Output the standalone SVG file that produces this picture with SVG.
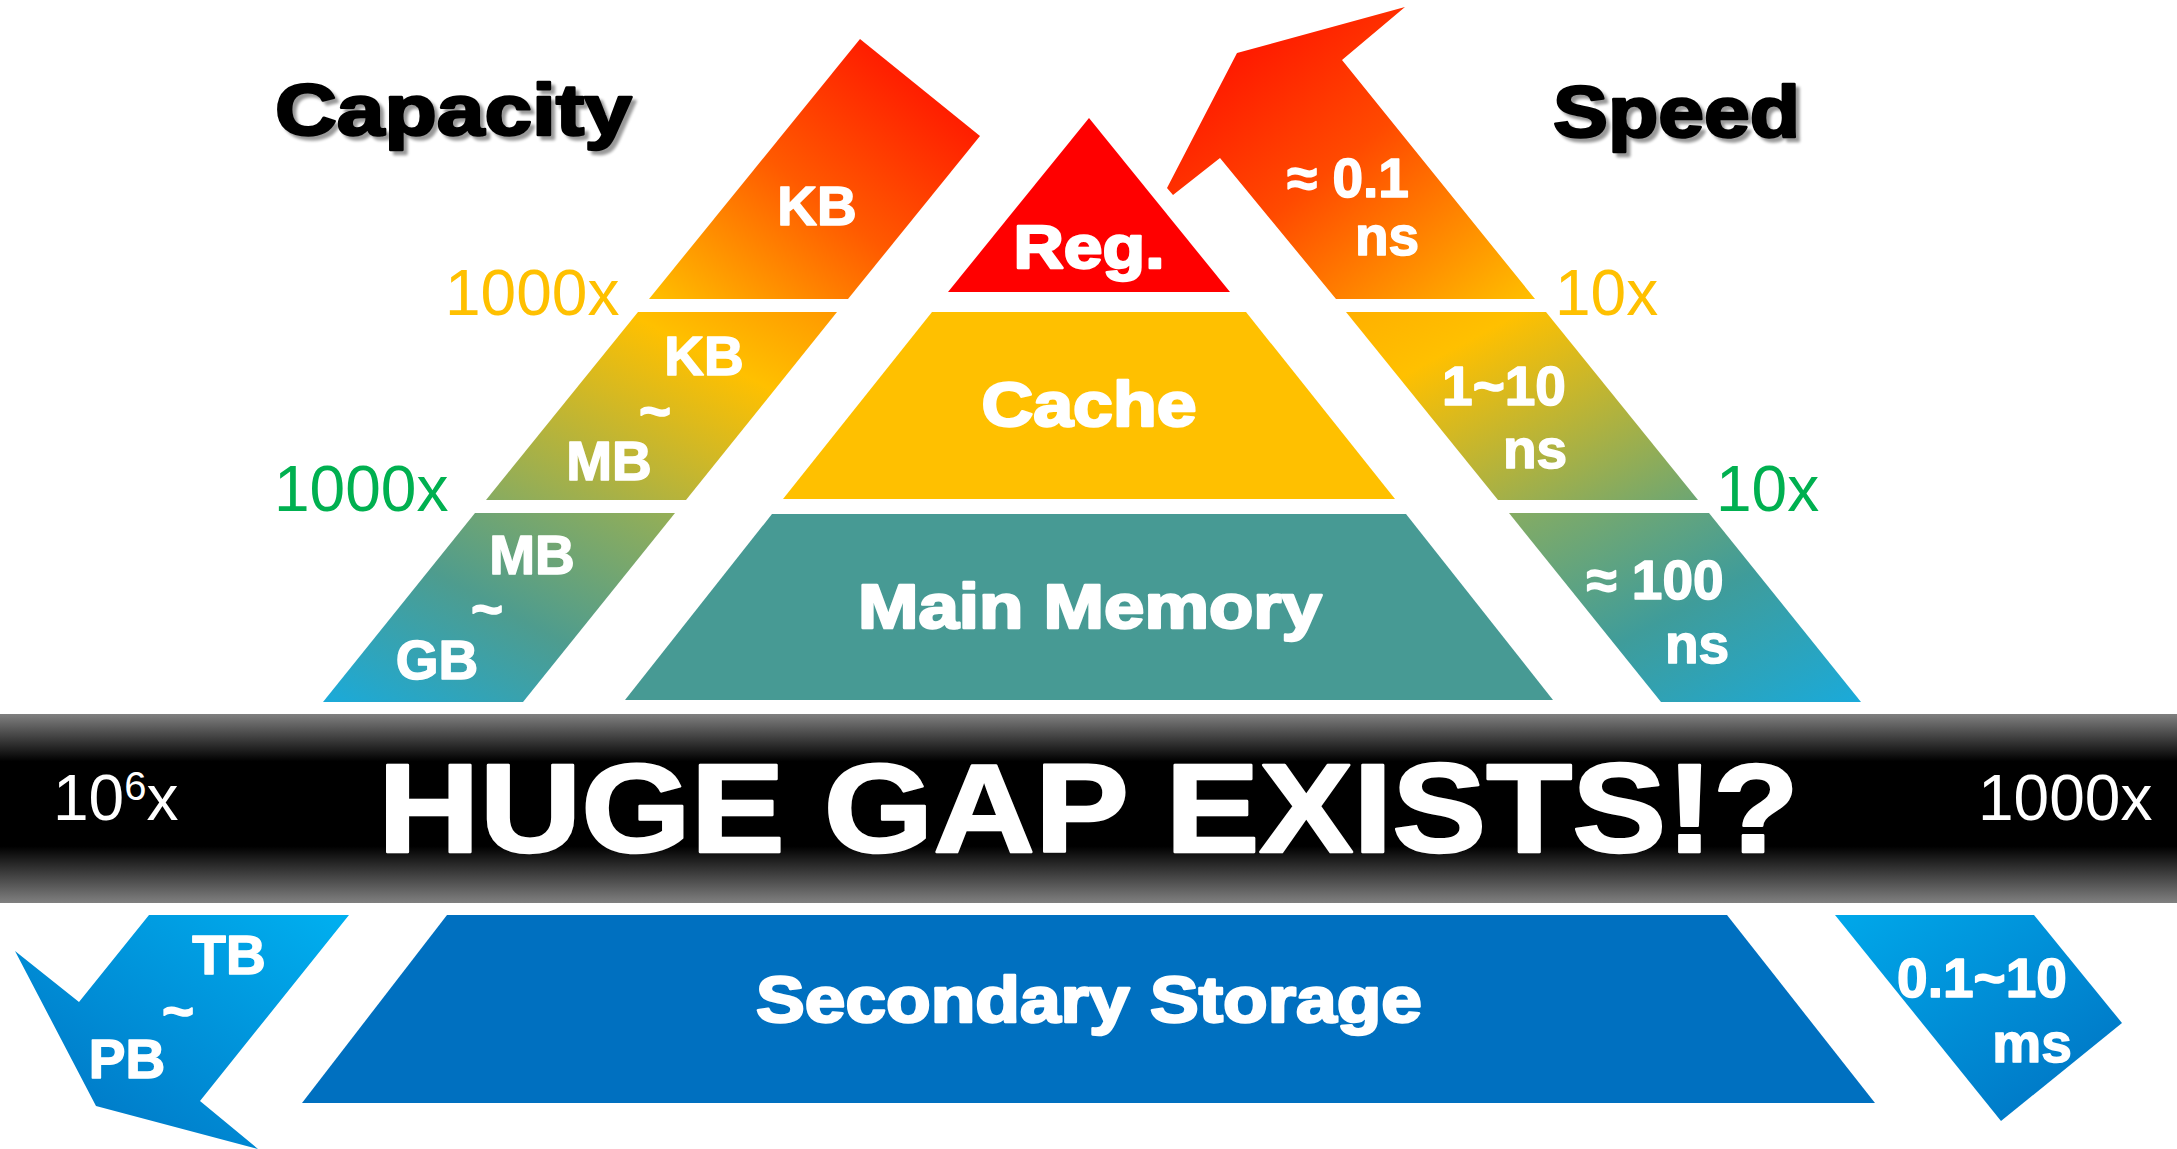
<svg xmlns="http://www.w3.org/2000/svg" width="2177" height="1149" viewBox="0 0 2177 1149">
  <style>
    text { font-family: "Liberation Sans", Arial, sans-serif; }
    .lbl { font-size: 55px; font-weight: bold; fill: #fff; stroke: #fff; stroke-width: 1.5; stroke-linejoin: round; text-anchor: middle; }
    .heavy { font-weight: bold; fill: #fff; stroke: #fff; stroke-width: 2.5; stroke-linejoin: round; paint-order: stroke; }
    .title { font-size: 73px; font-weight: bold; fill: #000; stroke: #000; stroke-width: 2.5; stroke-linejoin: round; }
    .mult { font-size: 64px; font-weight: normal; }
    .yel { fill: #FFC000; }
    .grn { fill: #00B050; }
    .wht { fill: #fff; }
  </style>
  <defs>
    <!-- capacity band, one gradient per segment (top-right to bottom-left) -->
    <linearGradient id="cap1" x1="1" y1="0" x2="0" y2="1">
      <stop offset="0" stop-color="#FF0000"/>
      <stop offset="0.55" stop-color="#FF5A00"/>
      <stop offset="1" stop-color="#FFC000"/>
    </linearGradient>
    <linearGradient id="cap2" x1="1" y1="0" x2="0" y2="1">
      <stop offset="0" stop-color="#FF9800"/>
      <stop offset="0.3" stop-color="#FFC000"/>
      <stop offset="1" stop-color="#86AB62"/>
    </linearGradient>
    <linearGradient id="cap3" x1="1" y1="0" x2="0" y2="1">
      <stop offset="0" stop-color="#96AF55"/>
      <stop offset="0.5" stop-color="#4E9C8E"/>
      <stop offset="1" stop-color="#1AAADA"/>
    </linearGradient>
    <!-- speed band, mirrored (top-left to bottom-right) -->
    <linearGradient id="spd1" x1="0" y1="0" x2="1" y2="1">
      <stop offset="0" stop-color="#FF0000"/>
      <stop offset="0.5" stop-color="#FF4A00"/>
      <stop offset="1" stop-color="#FFC000"/>
    </linearGradient>
    <linearGradient id="spd2" x1="0" y1="0" x2="1" y2="1">
      <stop offset="0" stop-color="#FFB000"/>
      <stop offset="0.25" stop-color="#FFC000"/>
      <stop offset="1" stop-color="#6CA674"/>
    </linearGradient>
    <linearGradient id="spd3" x1="0" y1="0" x2="1" y2="1">
      <stop offset="0" stop-color="#86AC62"/>
      <stop offset="0.5" stop-color="#3F9C9A"/>
      <stop offset="1" stop-color="#1AAADA"/>
    </linearGradient>
    <linearGradient id="blueL" x1="1" y1="0" x2="0" y2="1">
      <stop offset="0" stop-color="#00B0F0"/>
      <stop offset="1" stop-color="#0070C0"/>
    </linearGradient>
    <linearGradient id="blueR" x1="0" y1="0" x2="1" y2="1">
      <stop offset="0" stop-color="#00A8EA"/>
      <stop offset="1" stop-color="#0070C0"/>
    </linearGradient>
    <linearGradient id="bar" x1="0" y1="0" x2="0" y2="1">
      <stop offset="0" stop-color="#808080"/>
      <stop offset="0.25" stop-color="#000"/>
      <stop offset="0.7" stop-color="#000"/>
      <stop offset="1" stop-color="#808080"/>
    </linearGradient>
    <filter id="shadow" x="-5%" y="-20%" width="115%" height="150%">
      <feGaussianBlur in="SourceAlpha" stdDeviation="1.5"/>
      <feOffset dx="4" dy="4"/>
      <feComponentTransfer><feFuncA type="linear" slope="0.4"/></feComponentTransfer>
      <feMerge><feMergeNode/><feMergeNode in="SourceGraphic"/></feMerge>
    </filter>
  </defs>

  <rect width="2177" height="1149" fill="#fff"/>

  <!-- headings -->
  <g id="title-capacity" filter="url(#shadow)">
    <text class="title" x="275" y="135" textLength="357" lengthAdjust="spacingAndGlyphs">Capacity</text>
  </g>
  <g id="title-speed" filter="url(#shadow)">
    <text class="title" x="1553" y="137" textLength="247" lengthAdjust="spacingAndGlyphs">Speed</text>
  </g>

  <!-- capacity band -->
  <g id="cap-kb">
    <polygon points="860,39 980,136 848,299 649,299" fill="url(#cap1)"/>
    <text class="lbl" x="817" y="225">KB</text>
  </g>
  <g id="cap-kb-mb">
    <polygon points="638,312 837,312 686,500 486,500" fill="url(#cap2)"/>
    <text class="lbl" x="704" y="375">KB</text>
    <text class="lbl" x="655" y="430">~</text>
    <text class="lbl" x="609" y="480">MB</text>
  </g>
  <g id="cap-mb-gb">
    <polygon points="475,513 675,513 523,702 323,702" fill="url(#cap3)"/>
    <text class="lbl" x="532" y="574">MB</text>
    <text class="lbl" x="487" y="628">~</text>
    <text class="lbl" x="437" y="679">GB</text>
  </g>
  <g id="cap-ratios">
    <text class="mult yel" x="445" y="315">1000x</text>
    <text class="mult grn" x="274" y="511">1000x</text>
  </g>

  <!-- memory pyramid -->
  <g id="reg">
    <polygon points="1089,118 1230,292 948,292" fill="#FF0000"/>
    <text class="heavy" x="1089" y="268" font-size="62" text-anchor="middle" textLength="151" lengthAdjust="spacingAndGlyphs">Reg.</text>
  </g>
  <g id="cache">
    <polygon points="932,312 1246,312 1395,499 783,499" fill="#FFC000"/>
    <text class="heavy" x="1089" y="426" font-size="63" text-anchor="middle" textLength="215" lengthAdjust="spacingAndGlyphs">Cache</text>
  </g>
  <g id="main-memory">
    <polygon points="772,514 1406,514 1553,700 625,700" fill="#479A94"/>
    <text class="heavy" x="1090" y="628" font-size="63" text-anchor="middle" textLength="464" lengthAdjust="spacingAndGlyphs">Main Memory</text>
  </g>

  <!-- speed band -->
  <g id="spd-01">
    <polygon points="1237,53 1405,7 1342,60 1535,299 1336,299 1220,158 1173,195 1167,188" fill="url(#spd1)"/>
    <text class="lbl" x="1348" y="197">≈ 0.1</text>
    <text class="lbl" x="1387" y="255">ns</text>
  </g>
  <g id="spd-1-10">
    <polygon points="1346,312 1546,312 1698,500 1498,500" fill="url(#spd2)"/>
    <text class="lbl" x="1504" y="405">1~10</text>
    <text class="lbl" x="1535" y="468">ns</text>
  </g>
  <g id="spd-100">
    <polygon points="1509,513 1709,513 1861,702 1661,702" fill="url(#spd3)"/>
    <text class="lbl" x="1655" y="599">≈ 100</text>
    <text class="lbl" x="1697" y="663">ns</text>
  </g>
  <g id="spd-ratios">
    <text class="mult yel" x="1555" y="315">10x</text>
    <text class="mult grn" x="1716" y="511">10x</text>
  </g>

  <!-- gap banner -->
  <g id="gap-bar">
    <rect x="0" y="714" width="2177" height="189" fill="url(#bar)"/>
    <text class="mult wht" x="53" y="820">10<tspan font-size="40" dy="-20">6</tspan><tspan dy="20">x</tspan></text>
    <text class="heavy" x="378" y="852" font-size="126" textLength="1421" lengthAdjust="spacingAndGlyphs">HUGE GAP EXISTS!?</text>
    <text class="mult wht" x="1978" y="820">1000x</text>
  </g>

  <!-- secondary storage -->
  <g id="cap-tb-pb">
    <polygon points="149,915 349,915 200,1101 258,1149 96,1106 15,951 79,1002" fill="url(#blueL)"/>
    <text class="lbl" x="229" y="974">TB</text>
    <text class="lbl" x="178" y="1030">~</text>
    <text class="lbl" x="127" y="1078">PB</text>
  </g>
  <g id="secondary-storage">
    <polygon points="447,915 1727,915 1875,1103 302,1103" fill="#0070C0"/>
    <text class="heavy" x="1089" y="1022" font-size="64" text-anchor="middle" textLength="666" lengthAdjust="spacingAndGlyphs">Secondary Storage</text>
  </g>
  <g id="spd-ms">
    <polygon points="1835,915 2034,915 2122,1023 2001,1121" fill="url(#blueR)"/>
    <text class="lbl" x="1982" y="997">0.1~10</text>
    <text class="lbl" x="2032" y="1062">ms</text>
  </g>

  <g id="connectors"/>
</svg>
